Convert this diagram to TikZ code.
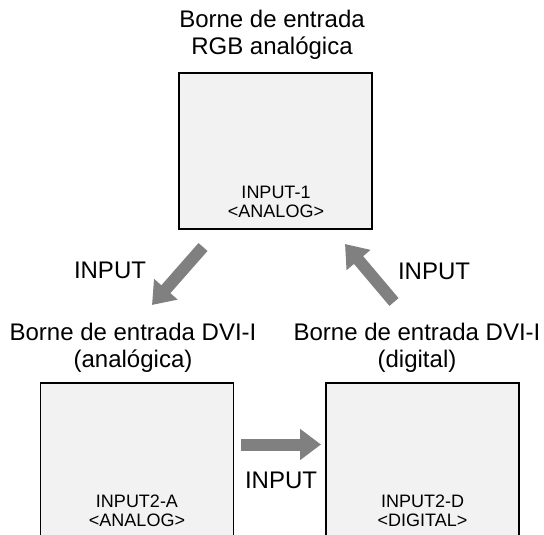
\documentclass[tikz,border=0pt]{standalone}
\usepackage{fontspec}
\setmainfont{Liberation Sans}
\usetikzlibrary{positioning,arrows.meta}

\begin{document}
\begin{tikzpicture}[
    x=1pt, y=-1pt,
    box/.style={rectangle, draw, line width=1.4pt, fill=gray!10, minimum width=193pt, inner sep=0pt},
    lbl/.style={align=center, inner sep=0pt, font=\fontsize{24}{27}\selectfont},
    inlbl/.style={align=center, inner sep=0pt, font=\fontsize{18}{19.5}\selectfont},
    arrow/.style={-{Triangle[width=30pt,length=21pt]}, line width=12pt, draw=gray}
]
\useasboundingbox (0,0) rectangle (544,535);
\clip (0,0) rectangle (544,535);

% boxes
\node[box, minimum height=156pt] (rgb) at (275.5,151) {};
\node[box, minimum height=177pt] (dvia) at (137,471.5) {};
\node[box, minimum height=177pt] (dvid) at (422.5,471.5) {};

% labels (base = last line)
\node[lbl, anchor=base] (rgblbl) at (272,55) {Borne de entrada\\RGB analógica};
\node[lbl, anchor=base] (dvialbl) at (133,367) {Borne de entrada DVI-I\\(analógica)};
\node[lbl, anchor=base] (dvidlbl) at (417,367) {Borne de entrada DVI-I\\(digital)};
\node[inlbl, anchor=base] (rgbin) at (276,217.5) {INPUT-1\\{<}ANALOG{>}};
\node[inlbl, anchor=base] (dviain) at (137,526.5) {INPUT2-A\\{<}ANALOG{>}};
\node[inlbl, anchor=base] (dvidin) at (422.5,526.5) {INPUT2-D\\{<}DIGITAL{>}};

% arrows
\coordinate (a1s) at (203,247);
\coordinate (a1e) at (152,305);
\coordinate (a2s) at (394,302);
\coordinate (a2e) at (345,244);
\coordinate (a3s) at (241,444.5);
\coordinate (a3e) at (321,444.5);
\draw[arrow] (a1s) -- (a1e);
\draw[arrow] (a2s) -- (a2e);
\draw[arrow] (a3s) -- (a3e);
\node[lbl, anchor=base] (in1) at (110,278) {INPUT};
\node[lbl, anchor=base] (in2) at (434,279) {INPUT};
\node[lbl, anchor=base] (in3) at (281,488) {INPUT};
\end{tikzpicture}
\end{document}
